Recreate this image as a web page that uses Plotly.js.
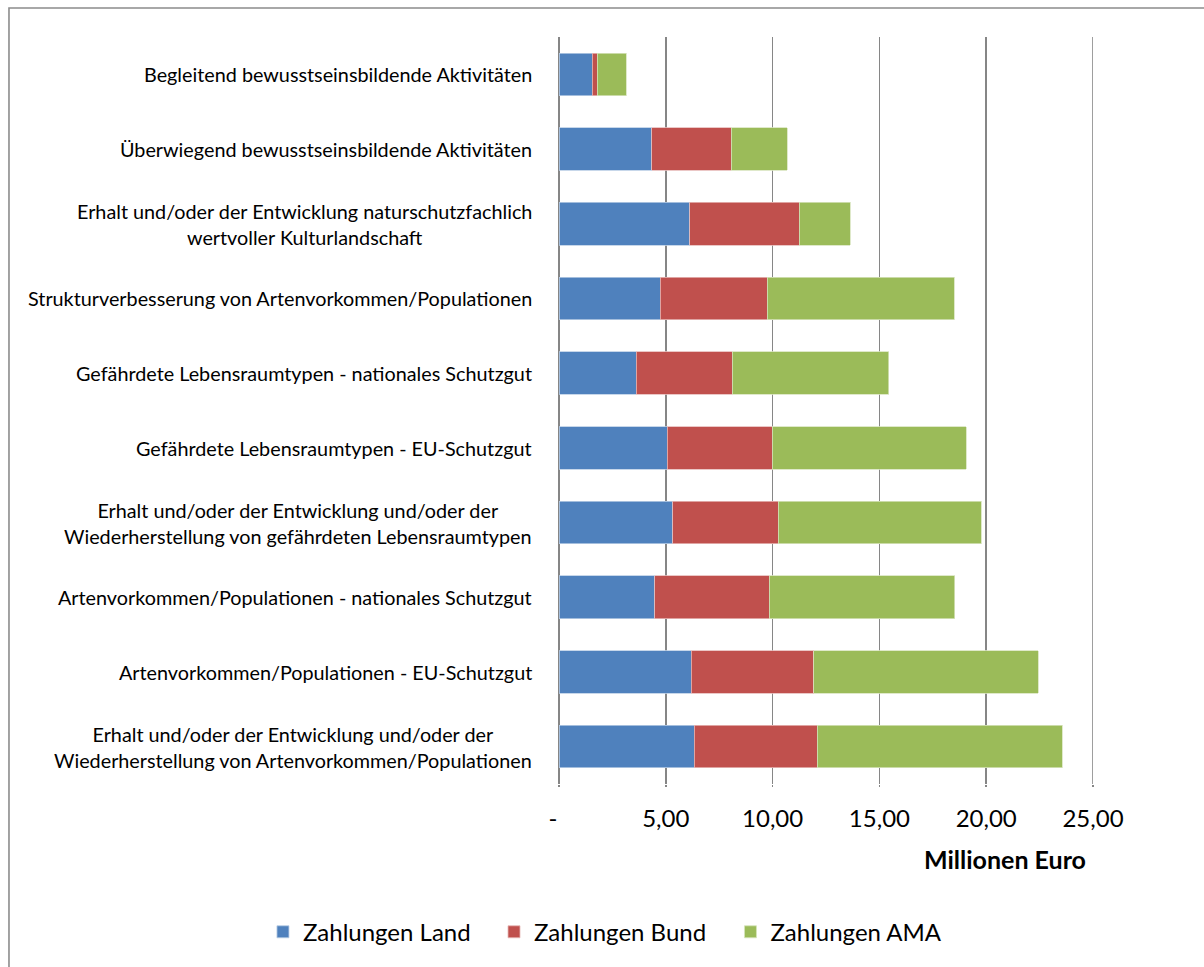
<!DOCTYPE html>
<html>
<head>
<meta charset="utf-8">
<script src="https://cdn.plot.ly/plotly-3.0.1.min.js"></script>
<style>
  html, body { margin: 0; padding: 0; background: #ffffff; }
  #chart { width: 1204px; height: 967px; }
</style>
</head>
<body>
<div id="chart"></div>
<script>
// Maßnahmenkategorien, von oben nach unten
const categories = [
  'Begleitend bewusstseinsbildende Aktivitäten',
  'Überwiegend bewusstseinsbildende Aktivitäten',
  'Erhalt und/oder der Entwicklung naturschutzfachlich<br>wertvoller Kulturlandschaft',
  'Strukturverbesserung von Artenvorkommen/Populationen',
  'Gefährdete Lebensraumtypen - nationales Schutzgut',
  'Gefährdete Lebensraumtypen - EU-Schutzgut',
  'Erhalt und/oder der Entwicklung und/oder der<br>Wiederherstellung von gefährdeten Lebensraumtypen',
  'Artenvorkommen/Populationen - nationales Schutzgut',
  'Artenvorkommen/Populationen - EU-Schutzgut',
  'Erhalt und/oder der Entwicklung und/oder der<br>Wiederherstellung von Artenvorkommen/Populationen'
];

// Zahlungen in Millionen Euro
const zahlungenLand = [1.55, 4.34, 6.12, 4.75, 3.61, 5.06, 5.32, 4.48, 6.20, 6.34];
const zahlungenBund = [0.23, 3.73, 5.12, 4.99, 4.49, 4.92, 4.94, 5.37, 5.73, 5.74];
const zahlungenAMA  = [1.37, 2.61, 2.39, 8.76, 7.34, 9.08, 9.50, 8.68, 10.50, 11.47];

const seriesNames = ['Zahlungen Land', 'Zahlungen Bund', 'Zahlungen AMA'];
const seriesColors = ['#4F81BD', '#C0504D', '#9BBB59'];
const seriesEdges = ['#b9cde5', '#e6b9b8', '#d7e4bd'];

const tickVals = [0, 5, 10, 15, 20, 25];
const tickText = ['-\u00a0\u00a0', '5,00', '10,00', '15,00', '20,00', '25,00'];
const axisTitle = 'Millionen Euro';

const FONT = 'Lato, "Open Sans", sans-serif';
const GRID = '#868686';

// eine Legende je Reihe, nebeneinander unter dem Diagramm
const legendIds = ['legend', 'legend2', 'legend3'];
const legendX = [0.2184, 0.4103, 0.6067];

const traces = [zahlungenLand, zahlungenBund, zahlungenAMA].map((vals, i) => ({
  type: 'bar',
  orientation: 'h',
  name: seriesNames[i],
  legend: legendIds[i],
  x: vals,
  y: categories,
  marker: { color: seriesColors[i], line: { color: seriesEdges[i], width: 0.8 } },
  hoverinfo: 'x+name'
}));

// Kategorienbeschriftungen, mehrzeilig zentriert
const labelAnnotations = categories.map(c => ({
  xref: 'paper', yref: 'y',
  x: -0.047, y: c,
  xanchor: 'right', yanchor: 'middle',
  align: 'center',
  text: c,
  showarrow: false,
  font: { family: FONT, size: 19.8, color: '#000000' }
}));

const layout = {
  width: 1204,
  height: 967,
  margin: { l: 559, r: 111, t: 37, b: 183, autoexpand: false },
  paper_bgcolor: '#ffffff',
  plot_bgcolor: '#ffffff',
  barmode: 'stack',
  bargap: 0.43,
  showlegend: true,
  xaxis: {
    range: [0, 25],
    tickvals: tickVals,
    ticktext: tickText,
    showgrid: true,
    gridcolor: GRID,
    gridwidth: 1.6,
    zeroline: true,
    zerolinecolor: GRID,
    zerolinewidth: 1.6,
    showline: false,
    ticks: 'outside',
    ticklen: 2,
    tickwidth: 1.6,
    tickcolor: GRID,
    ticklabelstandoff: 11,
    tickfont: { family: FONT, size: 24, color: '#000000' },
    fixedrange: true
  },
  yaxis: {
    autorange: 'reversed',
    showticklabels: false,
    showgrid: false,
    zeroline: false,
    showline: false,
    ticks: '',
    fixedrange: true
  },
  annotations: labelAnnotations.concat([{
    xref: 'paper', yref: 'paper',
    x: 0.835, y: -0.1004,
    xanchor: 'center', yanchor: 'middle',
    text: '<b>' + axisTitle + '</b>',
    showarrow: false,
    font: { family: FONT, size: 25, color: '#000000' }
  }]),
  shapes: [
    {
      // Rahmen des Diagrammbereichs
      type: 'rect',
      xref: 'paper', yref: 'paper',
      x0: -1.030, x1: 1.25,
      y0: -0.27, y1: 1.0388,
      line: { color: '#8c8c8c', width: 1.6 },
      fillcolor: 'rgba(0,0,0,0)',
      layer: 'below'
    },
    {
      // Gitterlinie am rechten Achsenende
      type: 'line',
      xref: 'x', yref: 'paper',
      x0: 25, x1: 25, y0: 0, y1: 1,
      line: { color: GRID, width: 1.6 },
      layer: 'below'
    }
  ]
};

legendIds.forEach((id, i) => {
  layout[id] = {
    orientation: 'h',
    xref: 'container', yref: 'container',
    x: legendX[i], xanchor: 'left',
    y: 0.036, yanchor: 'middle',
    font: { family: FONT, size: 24, color: '#000000' },
    bgcolor: 'rgba(0,0,0,0)',
    itemwidth: 30
  };
});

Plotly.newPlot('chart', traces, layout, { displayModeBar: false, staticPlot: true });
</script>
</body>
</html>
